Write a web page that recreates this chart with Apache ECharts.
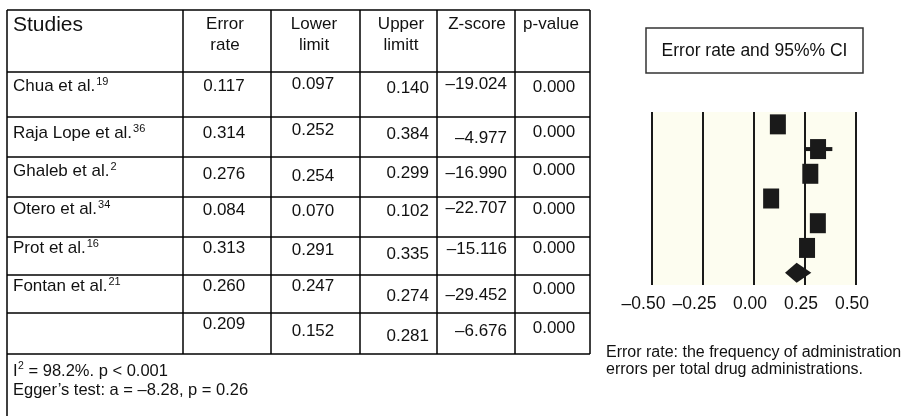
<!DOCTYPE html>
<html>
<head>
<meta charset="utf-8">
<script src="https://cdn.jsdelivr.net/npm/echarts@6/dist/echarts.min.js"></script>
<style>
html,body{margin:0;padding:0;background:#fff;}
#chart{width:904px;height:416px;}
</style>
</head>
<body>
<div id="chart"></div>
<script>
// ---------------- DATA ----------------
const studyNames = ['Chua et al.', 'Raja Lope et al.', 'Ghaleb et al.', 'Otero et al.', 'Prot et al.', 'Fontan et al.', ''];
const studyRefs  = ['19', '36', '2', '34', '16', '21', ''];
const errorRate  = [0.117, 0.314, 0.276, 0.084, 0.313, 0.260, 0.209];
const lowerLimit = [0.097, 0.252, 0.254, 0.070, 0.291, 0.247, 0.152];
const upperLimit = [0.140, 0.384, 0.299, 0.102, 0.335, 0.274, 0.281];
const zScore     = [-19.024, -4.977, -16.990, -22.707, -15.116, -29.452, -6.676];
const pValue     = [0.000, 0.000, 0.000, 0.000, 0.000, 0.000, 0.000];
const headerTop    = ['Studies', 'Error', 'Lower', 'Upper', 'Z-score', 'p-value'];
const headerBottom = ['', 'rate', 'limit', 'limitt', '', ''];
const footerHet   = ['I', '2', ' = 98.2%. p < 0.001'];
const footerEgger = 'Egger\u2019s test: a = \u20138.28, p = 0.26';
const plotTitle   = 'Error rate and 95%% CI';
const captionLines = ['Error rate: the frequency of administration', 'errors per total drug administrations.'];
const xTicks = [-0.50, -0.25, 0.00, 0.25, 0.50];

// ---------------- LAYOUT ----------------
const FONT = '"Liberation Sans", Arial, Helvetica, sans-serif';
const colLines = [7, 183, 271, 360, 437, 515, 590];
const rowLines = [10, 72, 117, 157, 197, 237, 275, 313, 354];
// text centre per row/column (scan jitter of the original)
const cellY = [
  [85, 85, 83, 87, 83, 86],
  [132, 132, 129, 133, 137, 131],
  [170, 173, 175, 172, 172, 169],
  [208, 209, 210, 210, 207, 208],
  [247, 247, 249, 253, 248, 247],
  [285, 285, 285, 295, 294, 288],
  [323, 323, 330, 335, 330, 327]
];

const mc = document.createElement('canvas').getContext('2d');
function measure(t, size) { mc.font = size + 'px ' + FONT; return mc.measureText(t).width; }
const fmt3 = v => (v < 0 ? '\u2013' : '') + Math.abs(v).toFixed(3);
const fmtTick = v => (v < 0 ? '\u2013' : '') + Math.abs(v).toFixed(2);

const TXT = '#111';
const graphics = [];
function text(t, x, y, size, align) {
  graphics.push({ type: 'text', silent: true, z: 10,
    style: { text: t, x: x, y: y, fontSize: size, fontFamily: FONT, fill: TXT,
             align: align || 'left', verticalAlign: 'middle',
             textAlign: align || 'left', textVerticalAlign: 'middle' } });
}
function line(x1, y1, x2, y2, w, c) {
  graphics.push({ type: 'line', silent: true, z: 5,
    shape: { x1: x1, y1: y1, x2: x2, y2: y2 },
    style: { stroke: c || '#000', lineWidth: w || 1.5 } });
}

// table grid
colLines.forEach((x, i) => line(x, rowLines[0], x, i === 0 ? 416 : rowLines[rowLines.length - 1]));
rowLines.forEach(y => line(colLines[0], y, colLines[colLines.length - 1], y));

// header
text(headerTop[0], 13, 25.5, 21, 'left');
const headX = [0, 225, 314, 401, 477, 551];
for (let c = 1; c < 6; c++) {
  text(headerTop[c], headX[c], 24, 17, 'center');
  if (headerBottom[c]) text(headerBottom[c], headX[c], 45, 17, 'center');
}

// body
for (let r = 0; r < studyNames.length; r++) {
  const ys = cellY[r].map(v => v + 1);
  if (studyNames[r]) {
    text(studyNames[r], 13, ys[0], 17, 'left');
    const w = measure(studyNames[r], 17);
    text(studyRefs[r], 13 + w + 1, ys[0] - 4, 11, 'left');
  }
  text(errorRate[r].toFixed(3), 224, ys[1], 17, 'center');
  text(lowerLimit[r].toFixed(3), 313, ys[2], 17, 'center');
  text(upperLimit[r].toFixed(3), 429, ys[3], 17, 'right');
  text(fmt3(zScore[r]), 507, ys[4], 17, 'right');
  text(pValue[r].toFixed(3), 554, ys[5], 17, 'center');
}

// footer
const fs = 16.5;
let fx = 13;
text(footerHet[0], fx, 371, fs, 'left');
fx += measure(footerHet[0], fs) + 0.5;
text(footerHet[1], fx, 366, 10.5, 'left');
fx += measure(footerHet[1], 10.5);
text(footerHet[2], fx, 371, fs, 'left');
text(footerEgger, 13, 390, fs, 'left');

// forest plot title box
graphics.push({ type: 'rect', silent: true, z: 5,
  shape: { x: 646, y: 28, width: 217, height: 45 },
  style: { fill: 'none', stroke: '#333', lineWidth: 1.5 } });
text(plotTitle, 754.5, 51, 17.5, 'center');

// caption
text(captionLines[0], 606, 352.5, 16, 'left');
text(captionLines[1], 606, 369.5, 16, 'left');

// ---------------- CHART ----------------
const cats = studyNames.map((n, i) => n || 'Overall');
const whiskerData = [], squareData = [];
for (let i = 0; i < 6; i++) {
  whiskerData.push([lowerLimit[i], upperLimit[i], i]);
  squareData.push([errorRate[i], i]);
}
const diamondData = [[lowerLimit[6], errorRate[6], upperLimit[6], 6]];

const chart = echarts.init(document.getElementById('chart'), null, { renderer: 'canvas' });
chart.setOption({
  animation: false,
  backgroundColor: '#ffffff',
  grid: { left: 652, top: 112, width: 204, height: 173, show: true,
          backgroundColor: '#fdfdf0', borderWidth: 0 },
  xAxis: {
    type: 'value', min: xTicks[0], max: xTicks[xTicks.length - 1], interval: 0.25,
    axisLine: { show: false }, axisTick: { show: false },
    splitLine: { show: true, lineStyle: { color: '#1a1a1a', width: 2 } },
    axisLabel: {
      margin: 10, color: '#111', fontSize: 17.5, fontFamily: FONT,
      formatter: v => (v < 0 ? '{n|' : '{p|') + fmtTick(v) + '}',
      rich: {
        n: { fontSize: 17.5, fontFamily: FONT, color: '#111', padding: [0, 17, 0, 0] },
        p: { fontSize: 17.5, fontFamily: FONT, color: '#111', padding: [0, 8, 0, 0] }
      }
    }
  },
  yAxis: { type: 'category', data: cats, inverse: true, show: false },
  series: [
    {
      type: 'custom', data: whiskerData, encode: { x: [0, 1], y: 2 }, z: 3,
      renderItem: (params, api) => {
        const y = api.value(2);
        const a = api.coord([api.value(0), y]);
        const b = api.coord([api.value(1), y]);
        return { type: 'line', shape: { x1: a[0], y1: a[1], x2: b[0], y2: b[1] },
                 style: { stroke: '#1a1a1a', lineWidth: 4 } };
      }
    },
    {
      type: 'scatter', data: squareData, symbol: 'rect', symbolSize: [16, 20], z: 4,
      itemStyle: { color: '#1a1a1a', opacity: 1 }
    },
    {
      type: 'custom', data: diamondData, encode: { x: [0, 1, 2], y: 3 }, z: 4,
      renderItem: (params, api) => {
        const y = api.value(3);
        const l = api.coord([api.value(0), y]);
        const m = api.coord([api.value(1), y]);
        const h = api.coord([api.value(2), y]);
        return { type: 'polygon',
                 shape: { points: [[l[0], l[1]], [m[0], m[1] - 10], [h[0], h[1]], [m[0], m[1] + 10]] },
                 style: { fill: '#1a1a1a' } };
      }
    }
  ],
  graphic: graphics
});
</script>
</body>
</html>
